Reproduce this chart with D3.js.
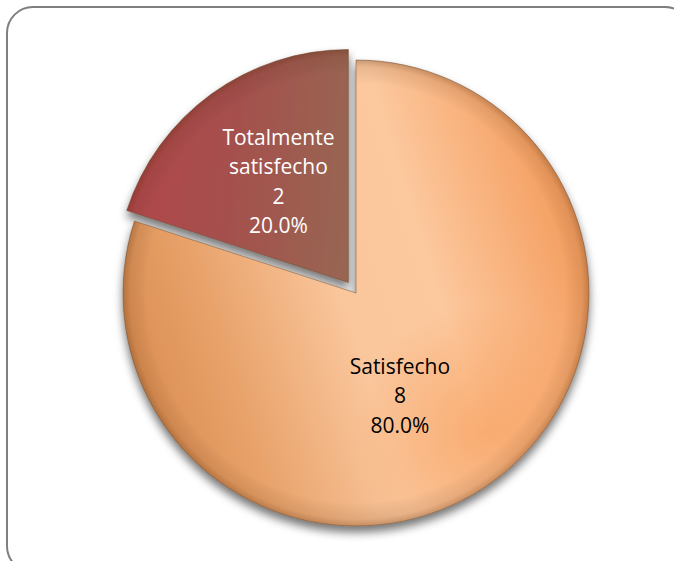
<!DOCTYPE html>
<html><head><meta charset="utf-8">
<script src="https://cdn.jsdelivr.net/npm/d3@7"></script>
<style>html,body{margin:0;padding:0;background:#fff;overflow:hidden}</style>
</head><body>
<svg id="c" width="674" height="561"></svg>
<script>
const categories = ["Satisfecho", "Totalmente satisfecho"];
const values = [8, 2];
const percentLabels = ["80.0%", "20.0%"];

const svg = d3.select("#c");
const cx = 356, cy = 293, R = 233, explode = 13;

svg.append("rect").attr("x", 7).attr("y", 7).attr("width", 684).attr("height", 565)
  .attr("rx", 26).attr("ry", 26).attr("fill", "#fff").attr("stroke", "#7f7f7f").attr("stroke-width", 2);

const defs = svg.append("defs");
// gradients in slice-local coordinates (origin = slice vertex)
const g1 = defs.append("linearGradient").attr("id", "gOrange")
  .attr("gradientUnits", "userSpaceOnUse").attr("x1", -R).attr("y1", 80).attr("x2", R * 0.9).attr("y2", -60);
[[0, "#d98c50"], [0.22, "#e8a26a"], [0.5, "#fac69c"], [0.7, "#fcc89e"], [0.88, "#f8b07a"], [1, "#f4a062"]]
  .forEach(s => g1.append("stop").attr("offset", s[0]).attr("stop-color", s[1]));
const og = defs.append("radialGradient").attr("id", "hot")
  .attr("gradientUnits", "userSpaceOnUse").attr("cx", R * 0.55).attr("cy", R * 0.6).attr("r", R * 0.55);
[[0, "#f58a3a", 0.45], [1, "#f58a3a", 0]]
  .forEach(s => og.append("stop").attr("offset", s[0]).attr("stop-color", s[1]).attr("stop-opacity", s[2]));
const g2 = defs.append("linearGradient").attr("id", "gRed")
  .attr("gradientUnits", "userSpaceOnUse").attr("x1", -R).attr("y1", -120).attr("x2", 0).attr("y2", -100);
[[0, "#b3464b"], [0.5, "#a5504d"], [1, "#986552"]]
  .forEach(s => g2.append("stop").attr("offset", s[0]).attr("stop-color", s[1]));
const rg = defs.append("radialGradient").attr("id", "edge")
  .attr("gradientUnits", "userSpaceOnUse").attr("cx", 0).attr("cy", 0).attr("r", R);
[[0, "#000", 0], [0.9, "#000", 0], [0.97, "#4a2000", 0.1], [1, "#4a2000", 0.28]]
  .forEach(s => rg.append("stop").attr("offset", s[0]).attr("stop-color", s[1]).attr("stop-opacity", s[2]));
const f = defs.append("filter").attr("id", "sh").attr("x", "-20%").attr("y", "-20%").attr("width", "140%").attr("height", "140%");
f.append("feGaussianBlur").attr("in", "SourceAlpha").attr("stdDeviation", 5).attr("result", "b");
f.append("feOffset").attr("in", "b").attr("dx", 0).attr("dy", 6).attr("result", "o");
f.append("feComponentTransfer").attr("in", "o").attr("result", "o2")
  .append("feFuncA").attr("type", "linear").attr("slope", 0.55);
const m = f.append("feMerge");
m.append("feMergeNode").attr("in", "o2");
m.append("feMergeNode").attr("in", "SourceGraphic");

const pie = d3.pie().sort(null).startAngle(0).endAngle(2 * Math.PI);
const arcs = pie(values);
const arc = d3.arc().innerRadius(0).outerRadius(R);
const fills = ["url(#gOrange)", "url(#gRed)"];

const offs = arcs.map((a, i) => {
  if (i === 0) return [0, 0];
  const mid = (a.startAngle + a.endAngle) / 2;
  return [explode * Math.sin(mid), -explode * Math.cos(mid)];
});

const pg = svg.append("g").attr("filter", "url(#sh)");
arcs.forEach((a, i) => {
  const g = pg.append("g").attr("transform", `translate(${cx + offs[i][0]},${cy + offs[i][1]})`);
  g.append("path").attr("d", arc(a)).attr("fill", fills[i]);
  if (i === 0) g.append("path").attr("d", arc(a)).attr("fill", "url(#hot)");
  g.append("path").attr("d", arc(a)).attr("fill", "url(#edge)");
  g.append("path").attr("d", arc(a)).attr("fill", "none").attr("stroke", "#6b4a30").attr("stroke-opacity", 0.5).attr("stroke-width", 1);
});

// labels
const labelR = [116, 119];
const angleAdj = [0.24, 0];
const textColors = ["#000", "#fff"];
const font = "'Open Sans', sans-serif";
arcs.forEach((a, i) => {
  const mid = (a.startAngle + a.endAngle) / 2 + angleAdj[i];
  const lx = cx + offs[i][0] + labelR[i] * Math.sin(mid);
  const ly = cy + offs[i][1] - labelR[i] * Math.cos(mid) + 3;
  const words = categories[i] === "Totalmente satisfecho" ? ["Totalmente", "satisfecho"] : [categories[i]];
  const lines = words.concat([String(values[i]), percentLabels[i]]);
  const lh = 29.5;
  const t = svg.append("text").attr("text-anchor", "middle").attr("font-family", font)
    .attr("font-size", 21).attr("fill", textColors[i]);
  lines.forEach((s, k) => {
    t.append("tspan").attr("x", lx).attr("y", ly + (k - (lines.length - 1) / 2) * lh).text(s);
  });
});
</script>
</body></html>
